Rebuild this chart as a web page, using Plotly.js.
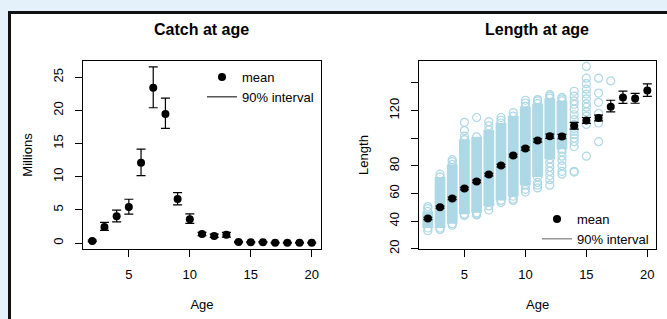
<!DOCTYPE html>
<html>
<head>
<meta charset="utf-8">
<script src="https://cdn.plot.ly/plotly-3.0.1.min.js"></script>
<style>
  html, body { margin: 0; padding: 0; background: #e4f0fa; }
  #chart { width: 667px; height: 319px; }
</style>
</head>
<body>
<div id="chart"></div>
<script>
// ---- Data ----
const ages = [2,3,4,5,6,7,8,9,10,11,12,13,14,15,16,17,18,19,20];

// Catch at age (millions): mean and 90% interval
const catchMean = [0.3, 2.4, 4.05, 5.45, 12.1, 23.4, 19.45, 6.65, 3.6, 1.35, 1.05, 1.25, 0.15, 0.12, 0.12, 0.05, 0.05, 0.05, 0.05];
const catchLo   = [0.2, 1.9, 3.2, 4.35, 10.15, 20.4, 17.3, 5.75, 2.95, 1.1, 0.85, 0.9, 0.05, 0.05, 0.05, 0.0, 0.0, 0.0, 0.0];
const catchHi   = [0.45, 3.1, 4.95, 6.6, 14.15, 26.55, 21.85, 7.6, 4.4, 1.6, 1.35, 1.6, 0.25, 0.2, 0.2, 0.1, 0.1, 0.1, 0.1];

// Length at age: mean and 90% interval
const lenMean = [41.9, 50.1, 56.4, 63.6, 68.7, 73.7, 80.2, 87.4, 92.5, 98.3, 101.4, 101.2, 109.1, 112.9, 114.6, 122.8, 129.5, 128.8, 134.6];
const lenLo   = [41.0, 49.3, 55.5, 62.7, 67.8, 72.8, 79.3, 86.4, 91.4, 97.1, 99.9, 99.6, 106.6, 110.7, 112.5, 119.1, 125.2, 125.3, 130.3];
const lenHi   = [42.8, 50.9, 57.3, 64.5, 69.6, 74.6, 81.1, 88.4, 93.6, 99.5, 102.9, 102.8, 111.5, 115.0, 116.7, 127.5, 134.1, 132.5, 139.3];

// Observed lengths: dense range per age (ages 2-13)
const bandAges = [2,3,4,5,6,7,8,9,10,11,12,13];
const bandLo   = [35, 35, 38, 45, 46, 51, 55, 58, 66, 72, 85, 92];
const bandHi   = [47, 72, 81, 99, 101, 106, 111, 116, 123, 125, 129, 127];

// Observed lengths outside the dense range
const outAge = [2,2,2, 3,3, 4,4,4, 5,5,5,5, 6,6,6, 7,7,7, 8,8,8, 9,9,9, 10,10,10,10, 11,11,11,11,11,
  12,12,12,12,12,12,12,12, 13,13,13,13,13,13,13,13,
  14,14,14,14,14,14,14,14,14,14,14,14,14,14,14,14,
  15,15,15,15,15,15,15,15,15,15,15,15, 16,16,16,16,16,16, 17];
const outLen = [50.5,49,33, 74,34, 84.5,83,37, 111.5,105.5,101.5,44, 115,45,44.5, 112,109,48, 115,113,53.5, 118.5,56,55, 127.5,125.5,63,61, 128,127,68,66,64,
  131.5,130.5,82,79,76,73,70,66, 129.5,128.5,90,87,84,80,76,74,
  134,130.5,127,124.5,121,117,113.5,110,107,105,102.5,100,97.5,94,76,75.5,
  152,143.5,139.5,135.5,132,128.5,125,122.5,119,116,110,87, 143.5,132.7,126,118,111,97.5, 141.5];

// ---- Traces ----
const font = 'Liberation Sans, Arial, sans-serif';
const blue = '#ADD8E6';

const traces = [
  {
    x: ages, y: catchMean, xaxis: 'x', yaxis: 'y', legend: 'legend',
    name: 'mean', type: 'scatter', mode: 'markers',
    marker: {color: 'black', size: 8},
    error_y: {type: 'data', symmetric: false,
      array: catchHi.map((h, i) => h - catchMean[i]),
      arrayminus: catchLo.map((l, i) => catchMean[i] - l),
      color: 'black', thickness: 1.2, width: 4.5}
  },
  {
    x: [null], y: [null], xaxis: 'x', yaxis: 'y', legend: 'legend',
    name: '90% interval', type: 'scatter', mode: 'lines',
    line: {color: 'black', width: 1}
  },
  {
    x: bandAges, base: bandLo, y: bandHi.map((h, i) => h - bandLo[i]),
    xaxis: 'x2', yaxis: 'y2', type: 'bar', width: 0.88,
    marker: {color: blue, line: {width: 0}}, showlegend: false, hoverinfo: 'skip'
  },
  {
    x: bandAges.concat(bandAges), y: bandLo.concat(bandHi),
    xaxis: 'x2', yaxis: 'y2', type: 'scatter', mode: 'markers', showlegend: false,
    marker: {symbol: 'circle-open', color: blue, size: 8, line: {width: 1.2}}
  },
  {
    x: outAge, y: outLen, xaxis: 'x2', yaxis: 'y2', type: 'scatter', mode: 'markers',
    showlegend: false, name: 'observed',
    marker: {symbol: 'circle-open', color: blue, size: 8, line: {width: 1.2}}
  },
  {
    x: ages, y: lenMean, xaxis: 'x2', yaxis: 'y2', legend: 'legend2',
    name: 'mean', type: 'scatter', mode: 'markers',
    marker: {color: 'black', size: 8},
    error_y: {type: 'data', symmetric: false,
      array: lenHi.map((h, i) => h - lenMean[i]),
      arrayminus: lenLo.map((l, i) => lenMean[i] - l),
      color: 'black', thickness: 1.2, width: 4.5}
  },
  {
    x: [null], y: [null], xaxis: 'x2', yaxis: 'y2', legend: 'legend2',
    name: '90% interval', type: 'scatter', mode: 'lines',
    line: {color: '#666666', width: 1}
  }
];

// ---- Layout ----
const W = 667, H = 319;
const px = v => v / W, py = v => 1 - v / H;

function xax(domain, range, title) {
  return {
    domain: domain, range: range, tickvals: [5, 10, 15, 20],
    ticks: 'outside', ticklen: 7, tickcolor: 'black', tickwidth: 1,
    showline: true, mirror: true, linecolor: 'black', linewidth: 1,
    showgrid: false, zeroline: false, ticklabelstandoff: 6,
    tickfont: {family: font, size: 13, color: 'black'},
    title: {text: title, font: {family: font, size: 13, color: 'black'}, standoff: 19}
  };
}
function yax(domain, range, vals, text, title) {
  return {
    domain: domain, range: range, tickvals: vals, ticktext: text, tickangle: -90,
    ticks: 'outside', ticklen: 7, tickcolor: 'black', tickwidth: 1,
    showline: true, mirror: true, linecolor: 'black', linewidth: 1,
    showgrid: false, zeroline: false, ticklabelstandoff: 7,
    tickfont: {family: font, size: 13, color: 'black'},
    title: {text: title, font: {family: font, size: 13, color: 'black'}, standoff: 15}
  };
}

const yDom = [py(249), py(61)];
const layout = {
  width: W, height: H,
  margin: {l: 0, r: 0, t: 0, b: 0},
  paper_bgcolor: '#e4f0fa', plot_bgcolor: 'white',
  font: {family: font, size: 13, color: 'black'},
  xaxis: Object.assign(xax([px(83), px(321)], [1.24, 20.76], 'Age'), {anchor: 'y'}),
  yaxis: Object.assign(yax(yDom, [-0.9, 27.45], [0, 5, 10, 15, 20, 25],
    ['0', '5', '10', '15', '20', '25'], 'Millions'), {anchor: 'x'}),
  xaxis2: Object.assign(xax([px(419.3), px(656)], [1.3, 20.71], 'Age'), {anchor: 'y2'}),
  yaxis2: Object.assign(yax(yDom, [19.8, 155.9], [20, 40, 60, 80, 100, 120, 140],
    ['20', '40', '60', '80', '', '120', ''], 'Length'), {anchor: 'x2'}),
  legend: {x: px(202), y: py(62), xanchor: 'left', yanchor: 'top',
    bgcolor: 'rgba(0,0,0,0)', font: {family: font, size: 13, color: 'black'}},
  legend2: {x: px(537), y: py(204), xanchor: 'left', yanchor: 'top',
    bgcolor: 'rgba(0,0,0,0)', font: {family: font, size: 13, color: 'black'}},
  showlegend: true,
  shapes: [{
    type: 'rect', xref: 'paper', yref: 'paper', layer: 'below',
    x0: px(9.5), x1: 1.2, y0: -0.2, y1: py(12.5),
    fillcolor: 'white', line: {color: '#111111', width: 3}
  }],
  annotations: [
    {text: 'Catch at age', xref: 'paper', yref: 'paper', x: px(201.7), y: py(29),
     xanchor: 'center', yanchor: 'middle', showarrow: false,
     font: {family: font, size: 16, color: 'black', weight: 'bold'}},
    {text: 'Length at age', xref: 'paper', yref: 'paper', x: px(536.7), y: py(29),
     xanchor: 'center', yanchor: 'middle', showarrow: false,
     font: {family: font, size: 16, color: 'black', weight: 'bold'}}
  ]
};

Plotly.newPlot('chart', traces, layout, {displayModeBar: false, staticPlot: true});
</script>
</body>
</html>
